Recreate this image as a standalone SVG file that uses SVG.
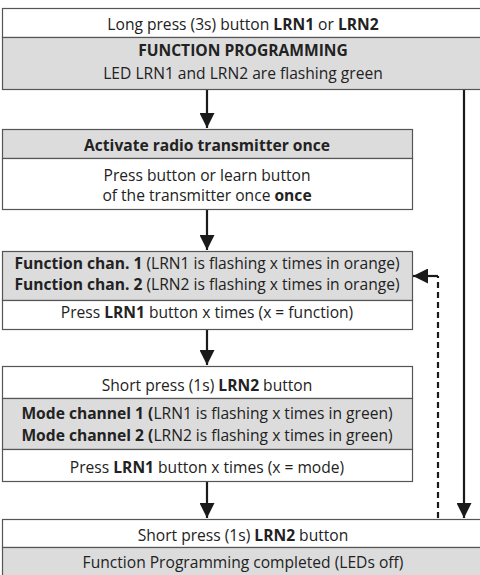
<svg xmlns="http://www.w3.org/2000/svg" width="480" height="575" viewBox="0 0 480 575">
<defs>
<style>
.w{fill:#ffffff;stroke:#555;stroke-width:1.2}
.g{fill:#dcdcdc;stroke:#555;stroke-width:1.2}
text{font-family:"Open Sans","Liberation Sans",sans-serif;font-size:15.6px;fill:#222;text-anchor:middle}
.b{font-weight:bold}
.ln{stroke:#1a1a1a;stroke-width:2.2;fill:none}
.dl{stroke:#1a1a1a;stroke-width:2.2;fill:none;stroke-dasharray:6 4}
</style>
<marker id="ahl" viewBox="0 0 10 10" refX="10" refY="5" markerWidth="15" markerHeight="15" markerUnits="userSpaceOnUse" orient="auto">
<path d="M0,0 L10,5 L0,10 z" fill="#1a1a1a"/>
</marker>
</defs>
<g id="connectors">
<line class="ln" x1="207" y1="90" x2="207" y2="128" marker-end="url(#ahl)"/>
<line class="ln" x1="207" y1="209" x2="207" y2="250" marker-end="url(#ahl)"/>
<line class="ln" x1="207" y1="329" x2="207" y2="365" marker-end="url(#ahl)"/>
<line class="ln" x1="207" y1="481" x2="207" y2="518" marker-end="url(#ahl)"/>
<line class="ln" x1="464" y1="90" x2="464" y2="518" marker-end="url(#ahl)"/>
<path class="dl" d="M438,518 L438,276"/>
<line class="ln" x1="438" y1="276" x2="413" y2="276" marker-end="url(#ahl)"/>
</g>
<g id="n1">
<rect class="w" x="2.5" y="8.5" width="482" height="29"/>
<rect class="g" x="2.5" y="37.5" width="482" height="52"/>
<text x="243" y="30">Long press (3s) button <tspan class="b">LRN1</tspan> or <tspan class="b">LRN2</tspan></text>
<text x="243" y="56" class="b">FUNCTION PROGRAMMING</text>
<text x="243" y="79">LED LRN1 and LRN2 are flashing green</text>
</g>
<g id="n2">
<rect class="g" x="2.5" y="129.5" width="410" height="29"/>
<rect class="w" x="2.5" y="158.5" width="410" height="51"/>
<text x="207" y="151" class="b">Activate radio transmitter once</text>
<text x="207" y="181">Press button or learn button</text>
<text x="207" y="201">of the transmitter once <tspan class="b">once</tspan></text>
</g>
<g id="n3">
<rect class="g" x="2.5" y="251.5" width="410" height="49"/>
<rect class="w" x="2.5" y="300.5" width="410" height="29"/>
<text x="207" y="269"><tspan class="b">Function chan. 1</tspan> (LRN1 is flashing x times in orange)</text>
<text x="207" y="290"><tspan class="b">Function chan. 2</tspan> (LRN2 is flashing x times in orange)</text>
<text x="207" y="318">Press <tspan class="b">LRN1</tspan> button x times (x = function)</text>
</g>
<g id="n4">
<rect class="w" x="2.5" y="366.5" width="410" height="32"/>
<rect class="g" x="2.5" y="398.5" width="410" height="51"/>
<rect class="w" x="2.5" y="449.5" width="410" height="32"/>
<text x="207" y="391">Short press (1s) <tspan class="b">LRN2</tspan> button</text>
<text x="207" y="419"><tspan class="b">Mode channel 1 (</tspan>LRN1 is flashing x times in green)</text>
<text x="207" y="441"><tspan class="b">Mode channel 2 (</tspan>LRN2 is flashing x times in green)</text>
<text x="207" y="473">Press <tspan class="b">LRN1</tspan> button x times (x = mode)</text>
</g>
<g id="n5">
<rect class="w" x="2.5" y="519.5" width="482" height="28"/>
<rect class="g" x="2.5" y="547.5" width="482" height="32"/>
<text x="243" y="541">Short press (1s) <tspan class="b">LRN2</tspan> button</text>
<text x="243" y="568">Function Programming completed (LEDs off)</text>
</g>
</svg>
